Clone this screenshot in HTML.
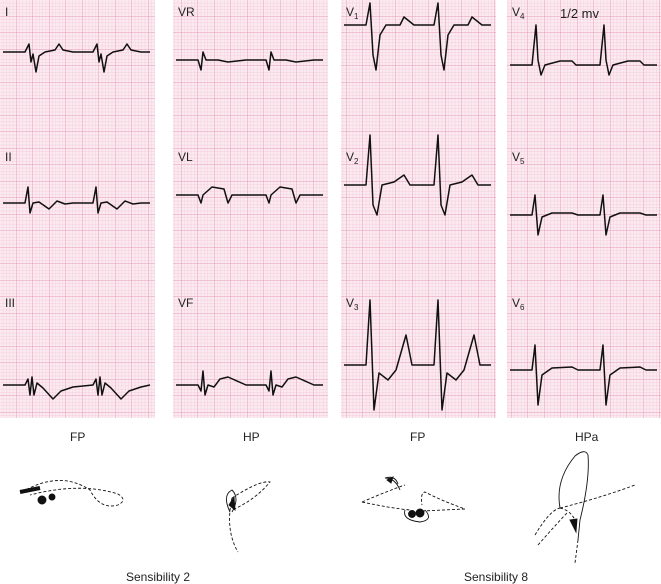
<!DOCTYPE html>
<html><head><meta charset="utf-8"><style>
html,body{margin:0;padding:0;background:#fff;width:661px;height:584px;overflow:hidden}
svg{display:block}
text{font-family:"Liberation Sans",sans-serif;fill:#222}
</style></head><body>
<svg id="s" width="661" height="584" viewBox="0 0 661 584" xmlns="http://www.w3.org/2000/svg">
<defs>
<pattern id="mn" width="3.3" height="3.3" patternUnits="userSpaceOnUse"><path d="M3.3 0V3.3H0" fill="none" stroke="#f2c3d5" stroke-width="0.6"/></pattern>
<pattern id="mj" width="16.5" height="16.5" patternUnits="userSpaceOnUse"><path d="M16.5 0V16.5H0" fill="none" stroke="#e39ab9" stroke-width="0.9"/></pattern>
</defs>
<g id="panels"></g>
<g fill="none" stroke="#111" stroke-width="1.5" stroke-linejoin="round" id="tr"></g>
<g font-size="12">
<text x="5" y="16">I</text><text x="5" y="161">II</text><text x="5" y="307">III</text>
<text x="178" y="16">VR</text><text x="178" y="161">VL</text><text x="178" y="307">VF</text>
<text x="346" y="16">V<tspan font-size="8" dy="3">1</tspan></text><text x="346" y="161">V<tspan font-size="8" dy="3">2</tspan></text><text x="346" y="307">V<tspan font-size="8" dy="3">3</tspan></text>
<text x="512" y="16">V<tspan font-size="8" dy="3">4</tspan></text><text x="512" y="161">V<tspan font-size="8" dy="3">5</tspan></text><text x="512" y="307">V<tspan font-size="8" dy="3">6</tspan></text>
<text x="560" y="18" font-size="13">1/2 mv</text>
<text x="70" y="441">FP</text><text x="243" y="441">HP</text><text x="410" y="441">FP</text><text x="575" y="441">HPa</text>
<text x="126" y="581">Sensibility 2</text><text x="464" y="581">Sensibility 8</text>
</g>
<g fill="none" stroke="#111" stroke-width="0.9">
<path d="M22 492 Q60 470 90 490 Q100 510 118 505 Q128 500 118 494 Q80 482 30 495" stroke-dasharray="3,2"/>
<path d="M20 492 L40 488" stroke-width="4"/>
<circle cx="42" cy="500" r="4" fill="#111"/><circle cx="52" cy="497" r="3" fill="#111"/>
<path d="M232 498 Q225 530 238 552 M232 498 Q260 480 270 482 Q255 500 232 510" stroke-dasharray="3,2"/>
<path d="M230 512 Q222 495 232 490 Q240 498 232 512"/>
<path d="M229 505 L234 497 L235 510Z" fill="#111"/>
<path d="M362 502 Q390 490 405 485 M362 502 Q390 508 410 510 M422 511 L465 509 Q440 500 425 492 Q420 493 422 505" stroke-dasharray="3,2"/>
<path d="M398 484 Q395 475 385 478 Q395 478 400 490 M405 510 Q402 520 420 522 Q434 520 425 510"/>
<path d="M387 480 L393 477 L391 483Z" fill="#111"/>
<circle cx="412" cy="514" r="3.5" fill="#111"/><circle cx="420" cy="513" r="4" fill="#111"/>
<path d="M560 508 Q555 480 575 456 Q585 448 588 455 Q590 480 580 520 L578 540"/>
<path d="M560 508 Q570 510 575 520 M535 535 Q550 510 560 508 M538 545 Q560 520 568 512 M560 508 Q600 498 635 485 M578 540 L575 563" stroke-dasharray="3,2"/>
<path d="M570 520 L577 519 L576 532Z" fill="#111"/>
</g>
</svg>
<script>
var P=document.getElementById('panels'),X=[0,173,341,507];
X.forEach(function(x){P.innerHTML+='<rect x="'+x+'" y="0" width="155" height="418" fill="#fbeaf0"/><rect x="'+x+'" y="0" width="155" height="418" fill="url(#mn)"/><rect x="'+x+'" y="0" width="155" height="418" fill="url(#mj)"/>';});
var T=document.getElementById('tr');
function lead(x0,yb,beat,starts){
 var d='M'+(x0+3)+' '+yb;
 starts.forEach(function(s){beat.forEach(function(p){d+=' L'+(x0+s+p[0])+' '+(yb+p[1]);});});
 d+=' L'+(x0+150)+' '+yb;
 T.innerHTML+='<path d="'+d+'"/>';
}
var s=[25,93];
lead(0,52,[[0,0],[4,-8],[6,10],[8,2],[11,20],[14,4],[20,0],[30,-2],[34,-8],[38,-2],[48,0]],s);
lead(0,203,[[0,0],[3,-16],[5,10],[8,0],[14,-1],[24,6],[32,-2],[40,1],[48,0]],s);
lead(0,385,[[0,0],[3,-6],[5,10],[7,-8],[9,10],[12,-2],[18,3],[28,14],[36,6],[48,2]],s);
lead(173,60,[[0,0],[3,10],[5,-8],[8,0],[20,0],[30,2],[48,0]],s);
lead(173,195,[[0,0],[3,8],[5,0],[14,-8],[26,-6],[30,8],[34,0],[48,0]],s);
lead(173,385,[[0,0],[3,6],[5,-14],[7,10],[10,0],[16,2],[22,-6],[30,-8],[48,0]],s);
lead(341,25,[[0,0],[4,-22],[7,30],[10,45],[14,10],[20,0],[34,0],[38,-8],[48,0]],s);
lead(341,185,[[0,0],[4,-50],[7,20],[11,30],[16,0],[28,-3],[38,-10],[44,0],[48,0]],s);
lead(341,365,[[0,0],[4,-65],[8,45],[13,8],[22,15],[30,5],[40,-30],[46,0]],s);
lead(507,65,[[0,0],[4,-40],[6,-5],[9,10],[13,0],[28,-4],[40,-4],[44,0]],s);
lead(507,215,[[0,0],[3,-20],[6,20],[10,2],[20,-2],[40,-2],[46,0]],s);
lead(507,370,[[0,0],[3,-25],[6,35],[10,5],[20,-2],[40,-3],[46,0]],s);
</script>
</body></html>
